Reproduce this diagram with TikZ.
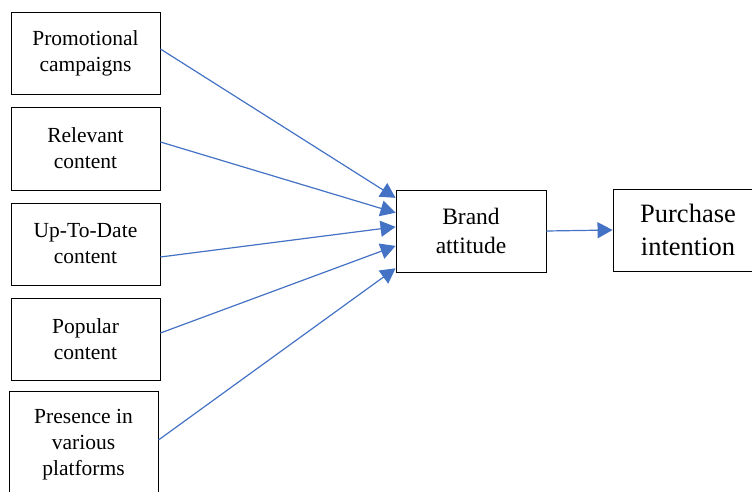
\documentclass[tikz,border=0pt]{standalone}
\usepackage{fontspec}
\setmainfont{Liberation Serif}
\usetikzlibrary{arrows.meta, calc}
\definecolor{linkblue}{HTML}{4472C4}

\tikzset{
  factor/.style={draw, line width=0.9pt, minimum width=149pt, minimum height=82pt,
    align=center, font=\fontsize{21.5}{26}\selectfont},
  link/.style={linkblue, line width=1.2pt, -{Triangle[length=15pt,width=16pt]}}
}

\begin{document}
\begin{tikzpicture}[x=1pt, y=-1pt]
            \useasboundingbox (0,0) rectangle (752,492);
            % Antecedents
            \node[factor] (promo) at (85.5,53) {Promotional\\campaigns};
            \node[factor, minimum height=83pt] (relevant) at (85.5,148.5) {Relevant\\content};
            \node[factor] (uptodate) at (85.5,244) {Up-To-Date\\content};
            \node[factor] (popular) at (85.5,339) {Popular\\content};
            \node[factor, minimum height=108pt] (presence) at (83.5,445) {Presence in\\various\\platforms};
            % Mediator and outcome
            \node[factor, minimum width=150pt, font=\fontsize{23.5}{29}\selectfont] (brand) at (471,231) {Brand\\attitude};
            \node[factor, minimum width=150pt, font=\fontsize{26.5}{33}\selectfont] (purchase) at (688,230) {Purchase\\intention};
            % Paths
            \draw[link] ([yshift=4pt]promo.east) -- ($(brand.north west)!0.1!(brand.south west)$);
            \draw[link] ([yshift=6.5pt]relevant.east) -- ($(brand.north west)!0.28!(brand.south west)$);
            \draw[link] ([yshift=-13pt]uptodate.east) -- ($(brand.north west)!0.45!(brand.south west)$);
            \draw[link] ([yshift=6pt]popular.east) -- ($(brand.north west)!0.68!(brand.south west)$);
            \draw[link] ([yshift=5pt]presence.east) -- ($(brand.north west)!0.95!(brand.south west)$);
            \draw[link] (brand.east) -- (purchase.west);
        \end{tikzpicture}
\end{document}
